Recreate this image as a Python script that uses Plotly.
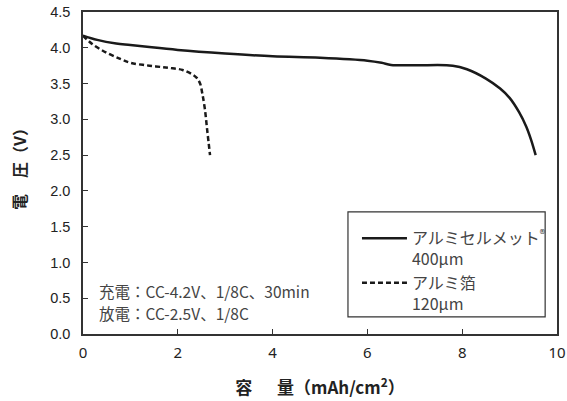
import plotly.graph_objects as go

cell_x = [0, 0.3, 0.7, 1.0, 1.4, 2.0, 3.0, 4.0, 5.0, 6.0, 6.3, 6.5, 7.0, 7.8, 8.1, 8.5, 8.8, 9.0, 9.2, 9.35, 9.45, 9.55]
cell_y = [4.17, 4.11, 4.06, 4.04, 4.01, 3.97, 3.92, 3.88, 3.86, 3.82, 3.79, 3.76, 3.755, 3.75, 3.70, 3.57, 3.43, 3.30, 3.10, 2.90, 2.72, 2.50]

foil_x = [0, 0.2, 0.5, 0.8, 1.0, 1.4, 1.8, 2.1, 2.3, 2.4, 2.47, 2.52, 2.57, 2.62, 2.68]
foil_y = [4.17, 4.05, 3.93, 3.84, 3.79, 3.75, 3.72, 3.69, 3.63, 3.58, 3.50, 3.35, 3.15, 2.85, 2.50]

x_ticks = [0, 2, 4, 6, 8, 10]
y_ticks = [0.0, 0.5, 1.0, 1.5, 2.0, 2.5, 3.0, 3.5, 4.0, 4.5]

legend_names = ["アルミセルメット<sup>®</sup><br>400μm", "アルミ箔<br>120μm"]
note_lines = ["充電：CC-4.2V、1/8C、30min", "放電：CC-2.5V、1/8C"]

jp = "Noto Sans CJK JP"

fig = go.Figure()
fig.add_trace(go.Scatter(x=cell_x, y=cell_y, mode="lines", line=dict(color="#1a1a1a", width=2.5, shape="spline"),
                         name=legend_names[0], legendgroup="a"))
fig.add_trace(go.Scatter(x=foil_x, y=foil_y, mode="lines",
                         line=dict(color="#1a1a1a", width=2.5, dash="5px,3px", shape="spline"),
                         name=legend_names[1], legendgroup="b"))

fig.update_layout(
    width=567, height=401,
    margin=dict(l=83, r=10, t=12, b=67),
    plot_bgcolor="white", paper_bgcolor="white",
    font=dict(family="Liberation Sans", size=14, color="#222"),
    showlegend=True,
    legend=dict(x=0.578, y=0.35, xanchor="left", yanchor="top",
                borderwidth=0, bgcolor="rgba(0,0,0,0)",
                font=dict(family=jp, size=16, color="#444"),
                traceorder="grouped", tracegroupgap=0, valign="top", itemwidth=45),
    xaxis=dict(range=[0, 10], tickvals=x_ticks, ticktext=[str(v) for v in x_ticks],
               ticks="inside", ticklen=5, tickcolor="#333", showline=True, linecolor="#333", linewidth=1.5,
               mirror=True, showgrid=False, zeroline=False, automargin=False, ticklabelstandoff=4,
               title=dict(text="<b>容　&nbsp;&nbsp;量（mAh/cm<sup>2</sup>）</b>", font=dict(family=jp, size=17, color="#222"),
                          standoff=21),
               tickfont=dict(family="Noto Sans", size=15, color="#222")),
    yaxis=dict(range=[0, 4.5], tickvals=y_ticks, ticktext=[f"{v:.1f}" for v in y_ticks],
               ticks="inside", ticklen=5, tickcolor="#333", showline=True, linecolor="#333", linewidth=1.5,
               mirror=True, showgrid=False, zeroline=False, automargin=False, ticklabelstandoff=8,
               title=dict(text="<b>　電　圧（V）</b>", font=dict(family=jp, size=16, color="#222"), standoff=20),
               tickfont=dict(family="Liberation Sans", size=14.5, color="#222")),
)

# legend frame
fig.add_shape(type="rect", xref="x", yref="y", x0=5.59, x1=9.75, y0=0.24, y1=1.707,
              line=dict(color="#333", width=1.2), fillcolor="rgba(0,0,0,0)", layer="below")

fig.add_annotation(x=0.029, y=0.135, xref="paper", yref="paper", xanchor="left", yanchor="middle", showarrow=False,
                   align="left", text=note_lines[0], font=dict(family=jp, size=15.5, color="#444"))
fig.add_annotation(x=0.029, y=0.065, xref="paper", yref="paper", xanchor="left", yanchor="middle", showarrow=False,
                   align="left", text=note_lines[1], font=dict(family=jp, size=15.5, color="#444"))

fig.write_html("out.html", config={"displayModeBar": False},
               post_script="document.body.style.margin='0';document.body.style.overflow='hidden';")
